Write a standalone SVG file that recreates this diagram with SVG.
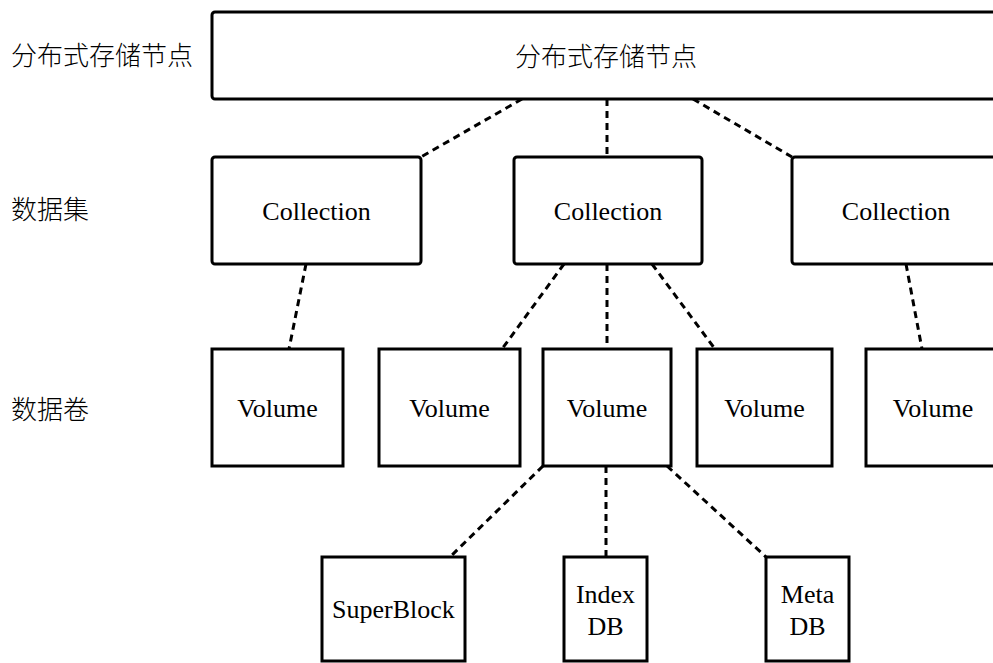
<svg xmlns="http://www.w3.org/2000/svg" width="993" height="663" viewBox="0 0 993 663">
<style>
.box{fill:#fff;stroke:#000;stroke-width:3}
.lbl{font-family:'Liberation Serif','Times New Roman',Times,serif;font-size:26px;fill:#000;text-anchor:middle}
.cjk{font-family:'Noto Sans CJK SC','Noto Sans CJK JP',sans-serif;font-size:26px;fill:#000;font-weight:300}
.mid{text-anchor:middle}
.dash{stroke:#000;stroke-width:3;stroke-dasharray:7 5;fill:none}
</style>
<rect width="993" height="663" fill="#fff"/>
<g id="row-labels">
<text class="cjk" x="11" y="65">分布式存储节点</text>
<text class="cjk" x="11" y="219">数据集</text>
<text class="cjk" x="11" y="419">数据卷</text>
</g>
<g id="connectors">
<line class="dash" x1="522" y1="99" x2="421" y2="157"/>
<line class="dash" x1="607" y1="99" x2="607" y2="157"/>
<line class="dash" x1="693" y1="99" x2="792" y2="157"/>
<line class="dash" x1="306" y1="264" x2="289" y2="349"/>
<line class="dash" x1="564" y1="264" x2="502" y2="349"/>
<line class="dash" x1="607" y1="264" x2="607" y2="349"/>
<line class="dash" x1="652" y1="264" x2="715" y2="349"/>
<line class="dash" x1="906" y1="264" x2="922" y2="349"/>
<line class="dash" x1="543" y1="466" x2="450" y2="557"/>
<line class="dash" x1="606" y1="466" x2="606" y2="557"/>
<line class="dash" x1="667" y1="466" x2="766" y2="557"/>
</g>
<g id="node-storage">
<rect class="box" x="212" y="12" width="790" height="87" rx="3"/>
<text class="cjk mid" x="606" y="66">分布式存储节点</text>
</g>
<g id="node-collection-1">
<rect class="box" x="212" y="157" width="209" height="107" rx="3"/>
<text class="lbl" x="316.5" y="220">Collection</text>
</g>
<g id="node-collection-2">
<rect class="box" x="514" y="157" width="188" height="107" rx="3"/>
<text class="lbl" x="608" y="220">Collection</text>
</g>
<g id="node-collection-3">
<rect class="box" x="792" y="157" width="210" height="107" rx="3"/>
<text class="lbl" x="896" y="220">Collection</text>
</g>
<g id="node-volume-1">
<rect class="box" x="212" y="349" width="131" height="117"/>
<text class="lbl" x="277.5" y="417">Volume</text>
</g>
<g id="node-volume-2">
<rect class="box" x="379" y="349" width="141" height="117"/>
<text class="lbl" x="449.5" y="417">Volume</text>
</g>
<g id="node-volume-3">
<rect class="box" x="543" y="349" width="128" height="117"/>
<text class="lbl" x="607" y="417">Volume</text>
</g>
<g id="node-volume-4">
<rect class="box" x="697" y="349" width="135" height="117"/>
<text class="lbl" x="764.5" y="417">Volume</text>
</g>
<g id="node-volume-5">
<rect class="box" x="866" y="349" width="136" height="117"/>
<text class="lbl" x="933" y="417">Volume</text>
</g>
<g id="node-superblock">
<rect class="box" x="322" y="557" width="143" height="104"/>
<text class="lbl" x="393.5" y="618">SuperBlock</text>
</g>
<g id="node-indexdb">
<rect class="box" x="564" y="557" width="83" height="104"/>
<text class="lbl" x="605.5" y="603">Index</text>
<text class="lbl" x="605.5" y="635">DB</text>
</g>
<g id="node-metadb">
<rect class="box" x="766" y="557" width="83" height="104"/>
<text class="lbl" x="807.5" y="603">Meta</text>
<text class="lbl" x="807.5" y="635">DB</text>
</g>
</svg>
